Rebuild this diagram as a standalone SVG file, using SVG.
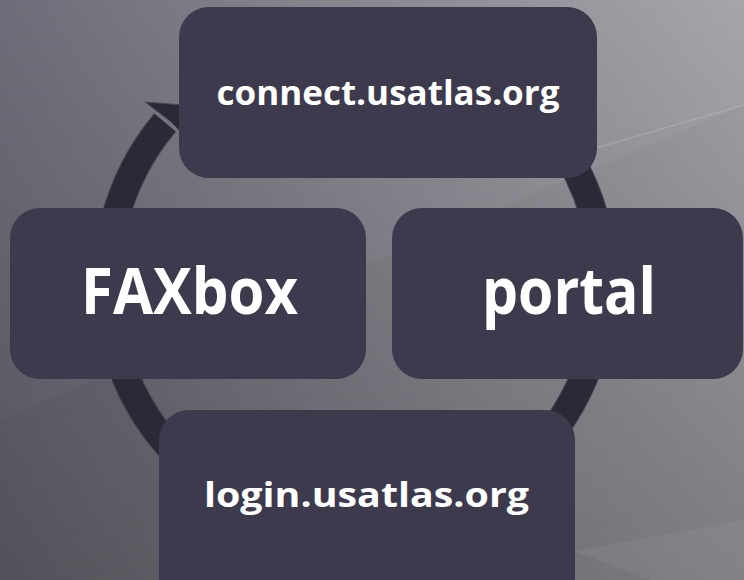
<svg xmlns="http://www.w3.org/2000/svg" width="744" height="580" viewBox="0 0 744 580">
  <defs>
    <linearGradient id="bgh" x1="0" y1="0" x2="1" y2="0">
      <stop offset="0" stop-color="#6d6c78"/>
      <stop offset="1" stop-color="#a6a5ab"/>
    </linearGradient>
    <linearGradient id="bgv" x1="0" y1="0" x2="0" y2="1">
      <stop offset="0" stop-color="#000000" stop-opacity="0"/>
      <stop offset="1" stop-color="#000000" stop-opacity="0.22"/>
    </linearGradient>
    <style>
      .box { fill: #3c3a4c; }
      .ring { fill: none; stroke: #2a2935; stroke-width: 27; }
      .ringedge { fill: none; stroke: #4a4858; stroke-width: 29; }
      .lbl { fill: #ffffff; font-family: "Open Sans", "Liberation Sans", sans-serif; font-weight: bold; text-anchor: middle; }
    </style>
  </defs>
  <rect x="0" y="0" width="744" height="580" fill="url(#bgh)"/>
  <rect x="0" y="0" width="744" height="580" fill="url(#bgv)"/>
  <polygon points="0,420 744,105 744,580 0,580" fill="#000000" opacity="0.03"/>
  <line x1="596" y1="148" x2="744" y2="105" stroke="#c8c6cc" stroke-width="1.5" opacity="0.3"/>
  <polygon points="574,551 744,520 744,580 651,580" fill="#ffffff" opacity="0.05"/>
  <g id="connectors">
    <path class="ringedge" d="M 270.2 49.0 A 248 248 0 1 1 165.0 122.6"/>
    <path class="ring" d="M 270.2 49.0 A 248 248 0 1 1 165.0 122.6"/>
    <polygon points="145,102 196,106 188,139 170,121" fill="#2a2935" stroke="#4a4858" stroke-width="1"/>
  </g>
  <g id="node-connect">
    <rect class="box" x="179" y="7" width="418" height="171" rx="30"/>
    <text class="lbl" x="388" y="105" font-size="34" textLength="343" lengthAdjust="spacingAndGlyphs">connect.usatlas.org</text>
  </g>
  <g id="node-faxbox">
    <rect class="box" x="10" y="208" width="356" height="171" rx="30"/>
    <text class="lbl" x="189.5" y="314" font-size="64" textLength="217" lengthAdjust="spacingAndGlyphs">FAXbox</text>
  </g>
  <g id="node-portal">
    <rect class="box" x="392" y="208" width="351" height="171" rx="30"/>
    <text class="lbl" x="569" y="314" font-size="64" textLength="174" lengthAdjust="spacingAndGlyphs">portal</text>
  </g>
  <g id="node-login">
    <rect class="box" x="159" y="410" width="416" height="200" rx="30"/>
    <text class="lbl" x="366.5" y="507" font-size="34" textLength="325" lengthAdjust="spacingAndGlyphs">login.usatlas.org</text>
  </g>
</svg>
